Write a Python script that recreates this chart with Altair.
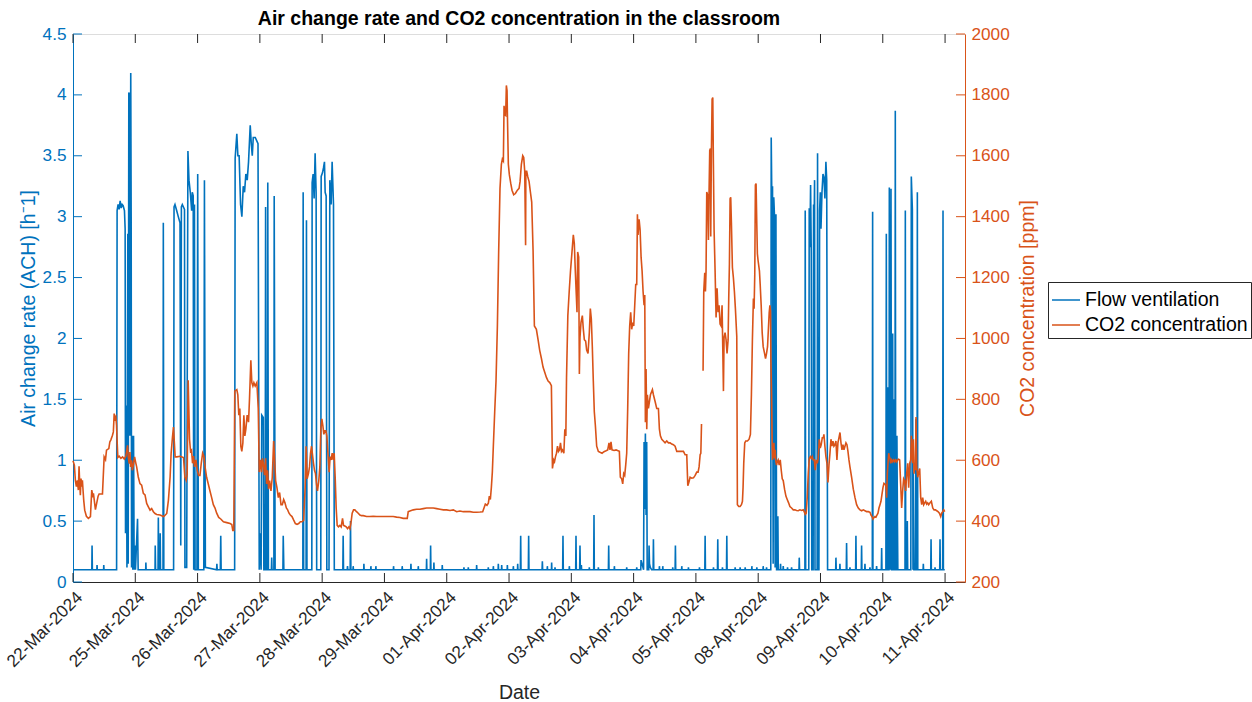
import altair as alt
import pandas as pd

# ---------------------------------------------------------------- data
# Working days shown on the time axis (weekends skipped, one unit per day)
day_labels = ["22-Mar-2024", "25-Mar-2024", "26-Mar-2024", "27-Mar-2024",
              "28-Mar-2024", "29-Mar-2024", "01-Apr-2024", "02-Apr-2024",
              "03-Apr-2024", "04-Apr-2024", "05-Apr-2024", "08-Apr-2024",
              "09-Apr-2024", "10-Apr-2024", "11-Apr-2024"]
day_ticks = list(range(len(day_labels)))
ach_ticks = [0, 0.5, 1, 1.5, 2, 2.5, 3, 3.5, 4, 4.5]
ppm_ticks = [200, 400, 600, 800, 1000, 1200, 1400, 1600, 1800, 2000]
chart_title = ["Air change rate and CO2 concentration in the classroom"]

# Air change rate of the flow ventilation, (day, ACH [1/h])
flow_ach = [
    (0.000, 0.10),
    (0.302, 0.10), (0.306, 0.30), (0.311, 0.10),
    (0.383, 0.10), (0.386, 0.14), (0.390, 0.10),
    (0.491, 0.10), (0.494, 0.14), (0.498, 0.10),
    (0.700, 0.10), (0.708, 3.05), (0.724, 3.10), (0.740, 3.06), (0.757, 3.13),
    (0.773, 3.07), (0.789, 3.10), (0.805, 3.09), (0.826, 3.05), (0.837, 2.90),
    (0.843, 0.40), (0.850, 1.45), (0.858, 1.40), (0.866, 0.12), (0.880, 2.86),
    (0.886, 0.15), (0.896, 4.02), (0.907, 4.00), (0.913, 1.20), (0.927, 4.18),
    (0.934, 3.00), (0.940, 0.12), (0.950, 1.20), (0.960, 0.10), (0.972, 1.20),
    (0.982, 0.10), (0.993, 0.30), (1.003, 0.10), (1.036, 0.52), (1.046, 0.10),
    (1.167, 0.10), (1.170, 0.16), (1.174, 0.10),
    (1.317, 0.10), (1.320, 0.30), (1.326, 0.10), (1.365, 0.10), (1.370, 0.53),
    (1.376, 0.10), (1.395, 0.10), (1.400, 0.40), (1.405, 0.10), (1.445, 0.10),
    (1.450, 2.95), (1.458, 0.10),
    (1.615, 0.10), (1.622, 3.08), (1.637, 3.10), (1.664, 3.05), (1.690, 3.00),
    (1.718, 2.95), (1.730, 0.30), (1.740, 3.08), (1.755, 3.10), (1.790, 3.06),
    (1.797, 0.12), (1.825, 0.12), (1.845, 3.54), (1.862, 3.30), (1.883, 3.20),
    (1.905, 3.05), (1.915, 3.20), (1.930, 3.17), (1.938, 0.10), (1.950, 3.10),
    (1.960, 0.10), (1.990, 0.10), (2.002, 3.35), (2.012, 0.10), (2.100, 0.10),
    (2.110, 3.30), (2.125, 0.12),
    (2.305, 0.10), (2.310, 0.15), (2.315, 0.10), (2.365, 0.10), (2.372, 0.38),
    (2.378, 0.10),
    (2.595, 0.10), (2.603, 3.48), (2.630, 3.68), (2.647, 3.50), (2.667, 3.50),
    (2.690, 3.10), (2.711, 3.00), (2.733, 3.25), (2.754, 3.20), (2.775, 3.35),
    (2.797, 3.30), (2.818, 3.45), (2.845, 3.75), (2.862, 3.60), (2.878, 3.50),
    (2.894, 3.65), (2.926, 3.65), (2.952, 3.62), (2.970, 3.60), (2.990, 0.10),
    (3.005, 0.40), (3.020, 0.10), (3.030, 1.37), (3.055, 1.35), (3.064, 0.10),
    (3.085, 0.10), (3.092, 3.08), (3.100, 0.10), (3.120, 0.10), (3.127, 3.28),
    (3.137, 0.10), (3.185, 0.10), (3.190, 0.20), (3.195, 0.10), (3.225, 0.10),
    (3.230, 3.17), (3.245, 0.10), (3.370, 0.10), (3.375, 0.38), (3.385, 0.10),
    (3.690, 0.10), (3.695, 3.20), (3.703, 0.10), (3.742, 0.10), (3.748, 2.97),
    (3.756, 0.10), (3.834, 0.10), (3.839, 3.28), (3.855, 3.35), (3.871, 3.15),
    (3.887, 3.52), (3.903, 3.20), (3.912, 0.10), (3.978, 0.10), (3.984, 3.33),
    (4.005, 3.36), (4.021, 3.40), (4.037, 3.45), (4.048, 3.20), (4.064, 3.17),
    (4.075, 0.10), (4.110, 0.10), (4.123, 3.30), (4.144, 3.10), (4.160, 3.45),
    (4.182, 3.10), (4.195, 0.10),
    (4.332, 0.10), (4.337, 0.38), (4.343, 0.10), (4.402, 0.10), (4.407, 0.13),
    (4.412, 0.10), (4.450, 0.10), (4.455, 0.50), (4.461, 0.10), (4.495, 0.10),
    (4.498, 0.13), (4.502, 0.10),
    (4.667, 0.10), (4.670, 0.15), (4.674, 0.10), (4.779, 0.10), (4.782, 0.13),
    (4.786, 0.10), (4.859, 0.10), (4.862, 0.13), (4.866, 0.10), (5.143, 0.10),
    (5.146, 0.13), (5.150, 0.10), (5.282, 0.10), (5.285, 0.13), (5.289, 0.10),
    (5.421, 0.10), (5.425, 0.15), (5.429, 0.10), (5.540, 0.10), (5.543, 0.13),
    (5.547, 0.10), (5.673, 0.10), (5.677, 0.19), (5.681, 0.10), (5.737, 0.10),
    (5.741, 0.30), (5.746, 0.10), (5.790, 0.10), (5.794, 0.16), (5.798, 0.10),
    (5.925, 0.10), (5.928, 0.14), (5.932, 0.10),
    (6.273, 0.10), (6.276, 0.12), (6.280, 0.10), (6.343, 0.10), (6.346, 0.12),
    (6.350, 0.10), (6.477, 0.10), (6.480, 0.14), (6.484, 0.10), (6.664, 0.10),
    (6.667, 0.12), (6.671, 0.10), (6.745, 0.10), (6.748, 0.13), (6.752, 0.10),
    (6.825, 0.10), (6.828, 0.15), (6.832, 0.10), (6.879, 0.10), (6.882, 0.14),
    (6.886, 0.10), (6.970, 0.10), (6.973, 0.14), (6.977, 0.10), (7.066, 0.10),
    (7.069, 0.13), (7.073, 0.10), (7.136, 0.10), (7.139, 0.15), (7.143, 0.10),
    (7.182, 0.10), (7.187, 0.38), (7.192, 0.10), (7.310, 0.10), (7.315, 0.38),
    (7.320, 0.10), (7.530, 0.10), (7.535, 0.17), (7.540, 0.10), (7.612, 0.10),
    (7.615, 0.13), (7.619, 0.10),
    (7.681, 0.10), (7.684, 0.16), (7.688, 0.10), (7.735, 0.10), (7.738, 0.12),
    (7.742, 0.10), (7.861, 0.10), (7.866, 0.38), (7.871, 0.10), (7.965, 0.10),
    (7.968, 0.13), (7.972, 0.10), (8.070, 0.10), (8.075, 0.38), (8.080, 0.10),
    (8.134, 0.10), (8.139, 0.30), (8.145, 0.10), (8.158, 0.10), (8.161, 0.14),
    (8.165, 0.10), (8.286, 0.10), (8.289, 0.12), (8.293, 0.10), (8.359, 0.10),
    (8.364, 0.55), (8.369, 0.10), (8.431, 0.10), (8.434, 0.12), (8.438, 0.10),
    (8.595, 0.10), (8.600, 0.30), (8.605, 0.10), (8.688, 0.10), (8.691, 0.13),
    (8.695, 0.10), (8.886, 0.10), (8.889, 0.12), (8.893, 0.10), (9.047, 0.10),
    (9.050, 0.12), (9.054, 0.10), (9.115, 0.10), (9.119, 0.18), (9.160, 0.10),
    (9.168, 1.15), (9.178, 0.60), (9.189, 1.22), (9.200, 0.55), (9.210, 1.15),
    (9.218, 0.10), (9.243, 0.10), (9.248, 0.30), (9.255, 0.15), (9.268, 0.12),
    (9.290, 0.10), (9.313, 0.10), (9.318, 0.35), (9.324, 0.10), (9.411, 0.10),
    (9.414, 0.13), (9.418, 0.10), (9.465, 0.10), (9.468, 0.13), (9.472, 0.10),
    (9.625, 0.10), (9.628, 0.12), (9.632, 0.10), (9.666, 0.10), (9.671, 0.30),
    (9.676, 0.10), (9.770, 0.10), (9.773, 0.13), (9.777, 0.10), (9.877, 0.10),
    (9.880, 0.12), (9.884, 0.10),
    (10.054, 0.10), (10.057, 0.12), (10.061, 0.10), (10.143, 0.10), (10.148, 0.38),
    (10.153, 0.10), (10.279, 0.10), (10.282, 0.12), (10.286, 0.10), (10.346, 0.10),
    (10.351, 0.35), (10.356, 0.10), (10.423, 0.10), (10.426, 0.12), (10.430, 0.10),
    (10.491, 0.10), (10.496, 0.38), (10.501, 0.10), (10.627, 0.10), (10.630, 0.12),
    (10.634, 0.10), (10.707, 0.10), (10.710, 0.12), (10.714, 0.10), (10.788, 0.10),
    (10.791, 0.12), (10.795, 0.10), (10.895, 0.10), (10.898, 0.13), (10.902, 0.10),
    (10.975, 0.10), (10.978, 0.12), (10.982, 0.10),
    (11.077, 0.10), (11.080, 0.13), (11.084, 0.10), (11.131, 0.10), (11.134, 0.12),
    (11.138, 0.10),
    (11.202, 0.10), (11.209, 3.65), (11.220, 3.10), (11.230, 3.25), (11.240, 0.15),
    (11.250, 3.16), (11.262, 3.00), (11.272, 0.12), (11.285, 3.02), (11.295, 0.10),
    (11.310, 0.10), (11.316, 0.54), (11.322, 0.10), (11.355, 0.10), (11.359, 0.15),
    (11.363, 0.10), (11.398, 0.10), (11.402, 0.13), (11.406, 0.10), (11.468, 0.10),
    (11.471, 0.12), (11.475, 0.10), (11.532, 0.10), (11.536, 0.12), (11.540, 0.10),
    (11.655, 0.10), (11.659, 0.20), (11.664, 0.10),
    (11.750, 0.10), (11.755, 3.05), (11.762, 0.10), (11.812, 0.10), (11.819, 3.07),
    (11.830, 2.75), (11.841, 3.26), (11.852, 2.70), (11.860, 0.10), (11.882, 0.10),
    (11.889, 3.10), (11.897, 2.90), (11.905, 3.30), (11.912, 0.10), (11.946, 0.10),
    (11.953, 3.52), (11.960, 0.10), (11.975, 0.10), (11.986, 3.05), (11.997, 3.20),
    (12.008, 2.90), (12.024, 3.20), (12.040, 3.35), (12.056, 3.32), (12.071, 3.15),
    (12.087, 3.45), (12.100, 3.30), (12.114, 0.10),
    (12.244, 0.10), (12.248, 0.20), (12.253, 0.10), (12.308, 0.10), (12.312, 0.15),
    (12.316, 0.10), (12.414, 0.10), (12.419, 0.32), (12.424, 0.10), (12.469, 0.10),
    (12.473, 0.12), (12.477, 0.10), (12.564, 0.10), (12.569, 0.38), (12.574, 0.10),
    (12.655, 0.10), (12.660, 0.30), (12.665, 0.10), (12.710, 0.10), (12.714, 0.15),
    (12.718, 0.10), (12.790, 0.10), (12.794, 0.12), (12.798, 0.10), (12.832, 0.10),
    (12.837, 3.04), (12.842, 0.10), (12.897, 0.10), (12.901, 0.13), (12.905, 0.10),
    (12.977, 0.10), (12.982, 0.28), (12.987, 0.10),
    (13.050, 0.10), (13.057, 2.86), (13.064, 0.10), (13.075, 0.10), (13.082, 1.60),
    (13.090, 0.10), (13.100, 0.10), (13.105, 3.24), (13.112, 0.10), (13.118, 2.40),
    (13.125, 0.10), (13.132, 3.23), (13.140, 0.10), (13.150, 0.10), (13.159, 2.04),
    (13.166, 0.10), (13.172, 0.10), (13.180, 1.50), (13.188, 0.10), (13.195, 0.10),
    (13.201, 3.87), (13.208, 0.10), (13.220, 0.10), (13.227, 1.20), (13.234, 0.60),
    (13.242, 0.10),
    (13.357, 0.10), (13.362, 3.05), (13.368, 0.10), (13.388, 0.10), (13.394, 0.50),
    (13.400, 0.10), (13.450, 0.10), (13.458, 3.33), (13.475, 3.06), (13.485, 0.10),
    (13.491, 0.90), (13.500, 0.10), (13.525, 0.10), (13.533, 1.34), (13.540, 0.10),
    (13.550, 0.10), (13.555, 3.20), (13.562, 0.10), (13.647, 0.10), (13.651, 0.15),
    (13.655, 0.10), (13.770, 0.10), (13.775, 0.35), (13.780, 0.10), (13.835, 0.10),
    (13.839, 0.12), (13.843, 0.10), (13.914, 0.10), (13.919, 0.35), (13.924, 0.10),
    (13.962, 0.10), (13.967, 3.05), (13.973, 0.10), (13.995, 0.10),
]

# CO2 concentration, (day, ppm), up to the logging gap on 05-Apr
co2_ppm = [
    (0.000, 598), (0.022, 584), (0.038, 534), (0.054, 513), (0.070, 534),
    (0.086, 502), (0.097, 580), (0.108, 523), (0.118, 485), (0.129, 540),
    (0.140, 513), (0.151, 534), (0.161, 502), (0.172, 469), (0.188, 436),
    (0.215, 416), (0.247, 409), (0.280, 415), (0.301, 502), (0.317, 485),
    (0.328, 491), (0.360, 438), (0.403, 482), (0.419, 489), (0.473, 489),
    (0.500, 611), (0.522, 602), (0.538, 633), (0.575, 638), (0.591, 660),
    (0.608, 667), (0.634, 682), (0.648, 693), (0.661, 753), (0.677, 737),
    (0.688, 742), (0.699, 715), (0.710, 655), (0.720, 609), (0.742, 613),
    (0.769, 606), (0.796, 611), (0.823, 604), (0.849, 613), (0.876, 649),
    (0.887, 611), (0.903, 589), (0.914, 627), (0.925, 578), (0.941, 600),
    (0.952, 567), (0.968, 583), (0.989, 611), (1.005, 594), (1.022, 578),
    (1.048, 545), (1.075, 523), (1.102, 518), (1.129, 491), (1.156, 486),
    (1.183, 458), (1.210, 447), (1.237, 436), (1.263, 441), (1.290, 431),
    (1.317, 425), (1.344, 422), (1.398, 420), (1.452, 415), (1.468, 417),
    (1.505, 425), (1.532, 469), (1.559, 545), (1.575, 622), (1.597, 676),
    (1.613, 709), (1.640, 611), (1.667, 611), (1.720, 613), (1.774, 609),
    (1.796, 545), (1.817, 534), (1.833, 553), (1.849, 863), (1.871, 669),
    (1.887, 629), (1.903, 633), (1.919, 590), (1.935, 614), (1.952, 578),
    (1.973, 601), (1.995, 567), (2.016, 550), (2.038, 550), (2.059, 590),
    (2.081, 623), (2.102, 612), (2.124, 573), (2.145, 544), (2.172, 522),
    (2.199, 499), (2.226, 477), (2.253, 454), (2.280, 443), (2.307, 426),
    (2.339, 412), (2.372, 407), (2.415, 398), (2.469, 395), (2.522, 392),
    (2.549, 389), (2.565, 369), (2.581, 369), (2.597, 827), (2.630, 832),
    (2.646, 815), (2.662, 748), (2.678, 770), (2.694, 646), (2.710, 629),
    (2.727, 657), (2.743, 748), (2.759, 680), (2.775, 702), (2.796, 748),
    (2.818, 725), (2.834, 804), (2.855, 928), (2.871, 855), (2.888, 844),
    (2.904, 855), (2.925, 844), (2.952, 855), (2.974, 770), (2.990, 561),
    (3.011, 601), (3.027, 561), (3.043, 606), (3.059, 583), (3.075, 551),
    (3.092, 606), (3.108, 522), (3.124, 567), (3.140, 505), (3.156, 533),
    (3.178, 499), (3.199, 544), (3.221, 663), (3.237, 601), (3.253, 533),
    (3.274, 510), (3.296, 477), (3.317, 494), (3.339, 454), (3.360, 454),
    (3.382, 471), (3.403, 460), (3.425, 443), (3.446, 437), (3.468, 426),
    (3.489, 420), (3.516, 415), (3.543, 403), (3.570, 392), (3.597, 389),
    (3.623, 392), (3.650, 398), (3.677, 398), (3.704, 403), (3.711, 443),
    (3.727, 510), (3.743, 646), (3.759, 539), (3.780, 556), (3.797, 578),
    (3.813, 623), (3.829, 646), (3.845, 618), (3.861, 590), (3.877, 567),
    (3.893, 556), (3.909, 522), (3.925, 499), (3.946, 533), (3.963, 578),
    (3.979, 702), (3.995, 736), (4.011, 714), (4.027, 685), (4.043, 697),
    (4.059, 697), (4.075, 680), (4.112, 561), (4.128, 612), (4.144, 601),
    (4.161, 623), (4.177, 601), (4.193, 623), (4.209, 544), (4.225, 443),
    (4.241, 386), (4.262, 381), (4.284, 386), (4.305, 381), (4.327, 409),
    (4.343, 386), (4.364, 384), (4.386, 381), (4.407, 375), (4.428, 381),
    (4.445, 375), (4.461, 392), (4.482, 426), (4.504, 437), (4.525, 437),
    (4.552, 431), (4.579, 426), (4.606, 420), (4.632, 418), (4.659, 418),
    (4.713, 415), (4.766, 415), (4.820, 416), (4.874, 415), (4.927, 415),
    (4.981, 415), (5.034, 415), (5.088, 415), (5.141, 415), (5.195, 413),
    (5.248, 412), (5.302, 409), (5.345, 409), (5.366, 409), (5.382, 431),
    (5.409, 433), (5.463, 437), (5.516, 439), (5.570, 439), (5.623, 441),
    (5.677, 443), (5.730, 443), (5.784, 443), (5.838, 441), (5.891, 439),
    (5.945, 437), (5.998, 437), (6.052, 435), (6.105, 437), (6.159, 431),
    (6.212, 433), (6.266, 431), (6.320, 431), (6.373, 431), (6.427, 429),
    (6.480, 429), (6.534, 430), (6.577, 431), (6.598, 443), (6.620, 456),
    (6.646, 452), (6.668, 459), (6.684, 482), (6.700, 471), (6.716, 510),
    (6.732, 561), (6.748, 646), (6.770, 759), (6.791, 860), (6.813, 1041),
    (6.834, 1289), (6.855, 1493), (6.877, 1572), (6.893, 1589), (6.909, 1583),
    (6.920, 1764), (6.930, 1735), (6.946, 1732), (6.957, 1831), (6.968, 1814),
    (6.973, 1746), (6.989, 1572), (7.005, 1538), (7.027, 1510), (7.048, 1487),
    (7.075, 1472), (7.102, 1476), (7.134, 1487), (7.161, 1493), (7.177, 1515),
    (7.198, 1572), (7.220, 1600), (7.236, 1594), (7.252, 1549), (7.266, 1306),
    (7.270, 1549), (7.284, 1549), (7.300, 1532), (7.322, 1515), (7.343, 1481),
    (7.364, 1448), (7.386, 1289), (7.407, 1041), (7.439, 1030), (7.466, 996),
    (7.493, 960), (7.520, 934), (7.546, 906), (7.573, 889), (7.600, 872),
    (7.627, 860), (7.654, 855), (7.680, 845), (7.697, 573), (7.716, 601),
    (7.730, 595), (7.746, 612), (7.762, 623), (7.778, 646), (7.794, 629),
    (7.810, 634), (7.826, 657), (7.842, 629), (7.858, 634), (7.880, 623),
    (7.896, 702), (7.912, 680), (7.923, 872), (7.944, 1075), (7.966, 1154),
    (7.987, 1222), (8.032, 1340), (8.048, 1312), (8.064, 1222), (8.080, 1143),
    (8.091, 1086), (8.102, 1284), (8.118, 1267), (8.129, 883), (8.139, 1003),
    (8.155, 1052), (8.177, 1075), (8.193, 1030), (8.209, 996), (8.230, 991),
    (8.246, 962), (8.268, 951), (8.289, 1019), (8.305, 1098), (8.321, 1064),
    (8.337, 973), (8.353, 860), (8.369, 759), (8.386, 714), (8.407, 646),
    (8.434, 629), (8.461, 626), (8.493, 623), (8.525, 628), (8.557, 631),
    (8.584, 634), (8.605, 657), (8.621, 634), (8.637, 660), (8.653, 634),
    (8.686, 632), (8.718, 634), (8.750, 631), (8.771, 629), (8.787, 544),
    (8.809, 539), (8.825, 522), (8.841, 556), (8.857, 550), (8.873, 584),
    (8.889, 623), (8.905, 770), (8.921, 951), (8.937, 1041), (8.953, 1086),
    (8.969, 1030), (8.986, 1052), (9.002, 1041), (9.018, 1109), (9.034, 1177),
    (9.050, 1177), (9.061, 1408), (9.071, 1340), (9.088, 1391), (9.104, 1357),
    (9.120, 1267), (9.136, 1222), (9.152, 1154), (9.168, 1109), (9.179, 1143),
    (9.189, 725), (9.200, 900), (9.211, 702), (9.221, 815), (9.238, 770),
    (9.270, 815), (9.302, 832), (9.318, 815), (9.345, 793), (9.371, 770),
    (9.398, 770), (9.414, 702), (9.430, 680), (9.452, 669), (9.478, 663),
    (9.505, 657), (9.532, 663), (9.559, 657), (9.586, 657), (9.612, 653),
    (9.639, 651), (9.666, 646), (9.693, 629), (9.746, 629), (9.800, 629),
    (9.827, 618), (9.853, 618), (9.870, 516), (9.886, 527), (9.907, 544),
    (9.934, 541), (9.961, 542), (9.988, 550), (10.014, 561), (10.035, 561),
    (10.051, 578), (10.068, 618), (10.079, 623), (10.090, 719),
]

# CO2 concentration after the logging gap
co2_ppm_after_gap = [
    (10.115, 894), (10.126, 1154), (10.142, 1216), (10.153, 1154), (10.163, 1222),
    (10.174, 1481), (10.190, 1470), (10.201, 1323), (10.212, 1493), (10.222, 1618),
    (10.233, 1624), (10.238, 1335), (10.249, 1618), (10.260, 1786), (10.271, 1791),
    (10.281, 1572), (10.292, 1357), (10.308, 1222), (10.324, 1069), (10.340, 1165),
    (10.356, 1086), (10.372, 1109), (10.388, 1047), (10.404, 1041), (10.420, 1109),
    (10.431, 973), (10.442, 827), (10.452, 1003), (10.468, 1019), (10.484, 996),
    (10.500, 951), (10.517, 996), (10.527, 1131), (10.538, 1244), (10.549, 1459),
    (10.559, 1464), (10.570, 1380), (10.586, 1233), (10.602, 1199), (10.618, 1154),
    (10.634, 1098), (10.656, 1007), (10.666, 454), (10.688, 448), (10.709, 448),
    (10.731, 454), (10.747, 465), (10.757, 510), (10.768, 590), (10.784, 657),
    (10.800, 663), (10.827, 663), (10.854, 669), (10.875, 685), (10.891, 815),
    (10.907, 996), (10.923, 1131), (10.934, 1098), (10.945, 1210), (10.955, 1504),
    (10.966, 1509), (10.977, 1380), (10.987, 1278), (10.998, 1256), (11.020, 1222),
    (11.032, 1177), (11.048, 1109), (11.064, 1019), (11.080, 973), (11.102, 951),
    (11.118, 934), (11.134, 951), (11.150, 973), (11.166, 1041), (11.177, 1086),
    (11.188, 1109), (11.198, 1090), (11.204, 928), (11.214, 815), (11.225, 646),
    (11.230, 601), (11.241, 618), (11.252, 657), (11.262, 606), (11.273, 634),
    (11.284, 595), (11.295, 584), (11.305, 595), (11.321, 601), (11.337, 584),
    (11.354, 601), (11.370, 567), (11.386, 539), (11.402, 533), (11.423, 505),
    (11.445, 482), (11.466, 471), (11.488, 460), (11.509, 448), (11.536, 443),
    (11.563, 437), (11.589, 437), (11.616, 435), (11.643, 434), (11.670, 437),
    (11.697, 435), (11.723, 437), (11.739, 431), (11.755, 422), (11.771, 426),
    (11.787, 477), (11.804, 556), (11.820, 606), (11.836, 612), (11.852, 606),
    (11.868, 612), (11.884, 601), (11.900, 601), (11.916, 567), (11.932, 601),
    (11.948, 590), (11.964, 606), (11.980, 669), (11.996, 640), (12.012, 651),
    (12.029, 674), (12.045, 674), (12.055, 685), (12.071, 646), (12.087, 612),
    (12.104, 590), (12.120, 527), (12.136, 584), (12.152, 623), (12.168, 669),
    (12.184, 646), (12.200, 663), (12.216, 646), (12.232, 651), (12.248, 663),
    (12.264, 601), (12.280, 657), (12.297, 674), (12.313, 691), (12.329, 657),
    (12.345, 634), (12.361, 651), (12.377, 634), (12.393, 646), (12.409, 657),
    (12.425, 651), (12.441, 629), (12.457, 601), (12.473, 578), (12.500, 544),
    (12.527, 505), (12.554, 477), (12.580, 454), (12.607, 443), (12.634, 437),
    (12.661, 434), (12.688, 437), (12.714, 434), (12.741, 431), (12.768, 431),
    (12.795, 429), (12.811, 420), (12.827, 415), (12.843, 407), (12.859, 412),
    (12.875, 415), (12.891, 413), (12.907, 420), (12.923, 426), (12.939, 443),
    (12.955, 454), (12.971, 465), (12.987, 488), (13.003, 510), (13.019, 524),
    (13.035, 522), (13.052, 516), (13.062, 477), (13.073, 556), (13.084, 590),
    (13.095, 623), (13.105, 612), (13.116, 606), (13.127, 590), (13.143, 601),
    (13.159, 595), (13.175, 601), (13.191, 595), (13.207, 601), (13.223, 595),
    (13.239, 601), (13.255, 603), (13.271, 601), (13.287, 522), (13.303, 443),
    (13.319, 499), (13.335, 539), (13.351, 533), (13.368, 499), (13.384, 556),
    (13.400, 590), (13.416, 510), (13.432, 590), (13.448, 601), (13.459, 680),
    (13.469, 623), (13.480, 590), (13.491, 669), (13.502, 556), (13.512, 590),
    (13.523, 567), (13.534, 742), (13.545, 578), (13.561, 544), (13.577, 561),
    (13.593, 573), (13.609, 477), (13.625, 454), (13.641, 477), (13.657, 454),
    (13.673, 460), (13.689, 465), (13.705, 456), (13.721, 460), (13.737, 454),
    (13.759, 460), (13.780, 465), (13.802, 443), (13.823, 437), (13.845, 437),
    (13.866, 434), (13.887, 431), (13.909, 426), (13.930, 415), (13.946, 426),
    (13.962, 431), (13.979, 437), (13.995, 431),
]

# ---------------------------------------------------------------- style
BLUE = "#0072BD"
ORANGE = "#D95319"
INK = "#262626"
FONT = "Liberation Sans"
TICK_FS = 17.2
LABEL_FS = 19.5
LINE_W = 1.6
W, H = 892, 548
TICK = 9
X_DOMAIN = [0, 14.32]

flow_df = pd.DataFrame(flow_ach, columns=["day", "value"])
flow_df["i"] = range(len(flow_df))
flow_df["series"] = "Flow ventilation"

co2_a = pd.DataFrame(co2_ppm, columns=["day", "value"])
co2_a["seg"] = 0
co2_b = pd.DataFrame(co2_ppm_after_gap, columns=["day", "value"])
co2_b["seg"] = 1
co2_df = pd.concat([co2_a, co2_b], ignore_index=True)
co2_df["i"] = range(len(co2_df))
co2_df["series"] = "CO2 concentration"

label_expr = "[" + ",".join("'%s'" % s for s in day_labels) + "][datum.value]"

x_scale = alt.Scale(domain=X_DOMAIN, nice=False, zero=False)
ach_scale = alt.Scale(domain=[0, 4.5], nice=False, zero=False)
ppm_scale = alt.Scale(domain=[200, 2000], nice=False, zero=False)
color_scale = alt.Scale(domain=["Flow ventilation", "CO2 concentration"],
                        range=[BLUE, ORANGE])

legend = alt.Legend(
    title=None, orient="none", legendX=975, legendY=248, direction="vertical",
    labelFont=FONT, labelFontSize=LABEL_FS, labelColor="#000000", labelOffset=4,
    labelLimit=400,
    symbolType="stroke", symbolSize=784, symbolStrokeWidth=1.5,
    strokeColor=INK, fillColor="white", padding=3, rowPadding=0, cornerRadius=0,
)

# one date axis, repeated verbatim in every layer that uses x
x_axis = alt.Axis(
    values=day_ticks, labelExpr=label_expr, orient="bottom",
    labelAngle=315, labelAlign="right", labelBaseline="top", labelPadding=6,
    labelFont=FONT, labelFontSize=TICK_FS, labelColor=INK,
    ticks=False, grid=False, domainColor=INK, domainWidth=1,
    title="Date", titleFont=FONT, titleFontSize=LABEL_FS, titleColor=INK,
    titleFontWeight="normal", titleBaseline="alphabetic", titleY=116,
    labelOverlap=False,
)

flow_line = alt.Chart(flow_df).mark_line(strokeWidth=LINE_W).encode(
    x=alt.X("day:Q", scale=x_scale, axis=x_axis),
    y=alt.Y("value:Q", scale=ach_scale, axis=alt.Axis(
        orient="left", values=ach_ticks, format="~g", ticks=False, grid=False,
        domainColor=BLUE, domainWidth=1, labelColor=BLUE, labelFont=FONT,
        labelFontSize=TICK_FS, labelPadding=7,
        title="Air change rate (ACH) [h⁻1]", titleColor=BLUE, titleFont=FONT,
        titleFontSize=LABEL_FS, titleFontWeight="normal", titleAngle=270,
        titleX=-39, titleY=H / 2, titleBaseline="alphabetic",
    )),
    color=alt.Color("series:N", scale=color_scale, legend=legend),
    order="i:Q",
)

co2_line = alt.Chart(co2_df).mark_line(strokeWidth=LINE_W).encode(
    x=alt.X("day:Q", scale=x_scale, axis=x_axis),
    y=alt.Y("value:Q", scale=ppm_scale, axis=alt.Axis(
        orient="right", values=ppm_ticks, format="d", ticks=False, grid=False,
        domainColor=ORANGE, domainWidth=1, labelColor=ORANGE, labelFont=FONT,
        labelFontSize=TICK_FS, labelPadding=6,
        title="CO2 concentration [ppm]", titleColor=ORANGE, titleFont=FONT,
        titleFontSize=LABEL_FS, titleFontWeight="normal", titleAngle=270,
        titleX=68, titleY=H / 2, titleBaseline="alphabetic",
    )),
    color=alt.Color("series:N", scale=color_scale, legend=legend),
    detail="seg:N",
    order="i:Q",
)

# Inward tick marks on all four sides of the box
left_ticks = alt.Chart(pd.DataFrame({"v": ach_ticks})).mark_rule(
    color=BLUE, strokeWidth=1).encode(
    y=alt.Y("v:Q", scale=ach_scale, axis=None),
    x=alt.value(0), x2=alt.value(TICK),
)
right_ticks = alt.Chart(pd.DataFrame({"v": ppm_ticks})).mark_rule(
    color=ORANGE, strokeWidth=1).encode(
    y=alt.Y("v:Q", scale=ppm_scale, axis=None),
    x=alt.value(W - TICK), x2=alt.value(W),
)
bottom_ticks = alt.Chart(pd.DataFrame({"day": day_ticks})).mark_rule(
    color=INK, strokeWidth=1).encode(
    x=alt.X("day:Q", scale=x_scale, axis=x_axis),
    y=alt.value(H), y2=alt.value(H - TICK),
)
top_ticks = alt.Chart(pd.DataFrame({"day": day_ticks})).mark_rule(
    color=INK, strokeWidth=1).encode(
    x=alt.X("day:Q", scale=x_scale, axis=x_axis),
    y=alt.value(0), y2=alt.value(TICK),
)

# Bold heading centred over the plot box
heading = alt.Chart(pd.DataFrame({"t": chart_title})).mark_text(
    font=FONT, fontSize=LABEL_FS, fontWeight="bold", color="#000000",
    align="center", baseline="alphabetic",
).encode(text="t:N", x=alt.value(W / 2), y=alt.value(-9))

chart = alt.layer(
    flow_line, left_ticks, co2_line, right_ticks, bottom_ticks, top_ticks,
    heading,
).resolve_scale(
    y="independent"
).properties(
    width=W, height=H,
    padding={"left": 73, "top": 34, "right": 287, "bottom": 120},
    autosize=alt.AutoSizeParams(type="none"),
).configure_view(
    stroke=INK, strokeWidth=1
).configure(background="white")

chart.save("out.html", embed_options={"renderer": "svg", "actions": False})
